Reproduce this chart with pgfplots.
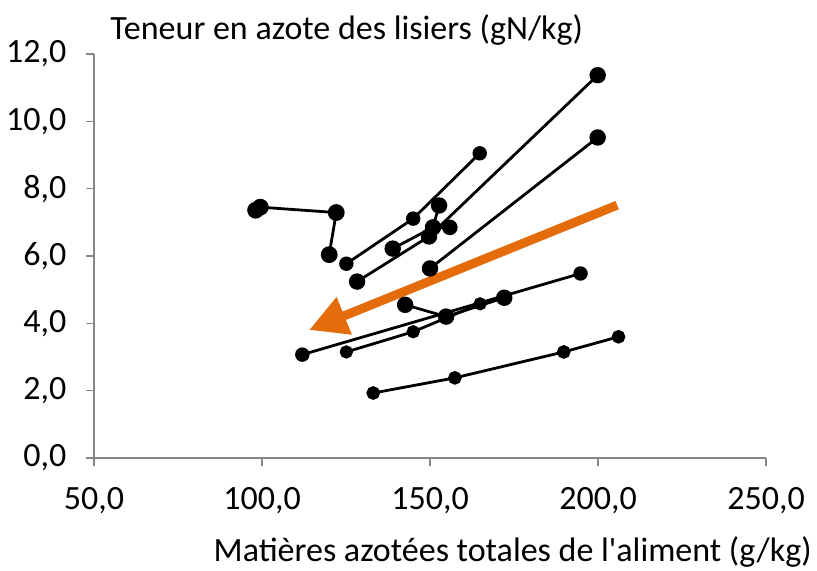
\documentclass[border=0pt]{standalone}
\usepackage{fontspec}
\setmainfont{Carlito}
\usepackage{pgfplots}
\pgfplotsset{compat=1.18}
\usetikzlibrary{arrows.meta}
\definecolor{axgray}{RGB}{134,134,134}
\definecolor{arroworange}{RGB}{228,108,10}
\begin{document}
\fontsize{17pt}{20pt}\selectfont
\begin{tikzpicture}
\path[use as bounding box] (-47pt,-56.5pt) rectangle (361.5pt,229pt);
\begin{axis}[
  at={(0,0)}, anchor=south west,
  scale only axis,
  width=336pt, height=202pt,
  xmin=50, xmax=250, ymin=0, ymax=12,
  xtick={50,100,150,200,250},
  ytick={0,2,4,6,8,10,12},
  axis lines*=left,
  axis line style={axgray, line width=0.7pt},
  tick style={axgray, line width=0.7pt},
  tick align=outside,
  major tick length=4pt,
  /pgf/number format/assume math mode=true,
  /pgf/number format/.cd, fixed, fixed zerofill, precision=1, use comma,
  /pgfplots/.cd,
  ticklabel style={font=\fontsize{17pt}{20pt}\selectfont},
  xticklabel style={yshift=-5pt},
  yticklabel style={xshift=-4pt},
  clip=false,
  every axis plot/.append style={black, line width=1.4pt, mark=*, mark options={solid, fill=black}},
]
% series 1
\addplot[mark size=3.5pt] coordinates {(98.1,7.36) (99.5,7.45) (122.1,7.29) (120.0,6.04)};
% series 2
\addplot[mark size=2.9pt] coordinates {(125.1,5.77) (145.0,7.11) (164.8,9.05)};
% series 3
\addplot[mark size=3.4pt] coordinates {(128.3,5.24) (149.7,6.58) (199.9,11.37)};
% series 4
\addplot[mark size=3.4pt] coordinates {(138.9,6.22) (150.9,6.85) (152.7,7.50)};
\addplot[mark size=3.2pt] coordinates {(150.9,6.85) (155.9,6.85)};
% series 5
\addplot[mark size=3.4pt] coordinates {(150.0,5.63) (199.9,9.52)};
% series 6
\addplot[mark size=3.4pt] coordinates {(142.6,4.55) (154.8,4.20) (172.1,4.76)};
% series 8
\addplot[mark size=2.9pt] coordinates {(112.0,3.07) (194.8,5.48)};
% series 9
\addplot[mark size=2.6pt] coordinates {(125.1,3.15) (145.0,3.75) (164.9,4.58)};
% series 7
\addplot[mark size=2.7pt] coordinates {(133.1,1.93) (157.4,2.38) (189.8,3.15) (206.1,3.60)};
% arrow
\addplot[arroworange, line width=4.5pt, mark=none, -{Triangle[length=19pt,width=19pt]}] coordinates {(205.7,7.51) (114.0,3.80)};
\end{axis}
\node[anchor=base west, inner sep=0pt] at (8pt,209pt) {Teneur en azote des lisiers (gN/kg)};
\node[anchor=base east, inner sep=0pt] at (359pt,-52pt) {Matières azotées totales de l\textquotesingle aliment (g/kg)};
\end{tikzpicture}
\end{document}
